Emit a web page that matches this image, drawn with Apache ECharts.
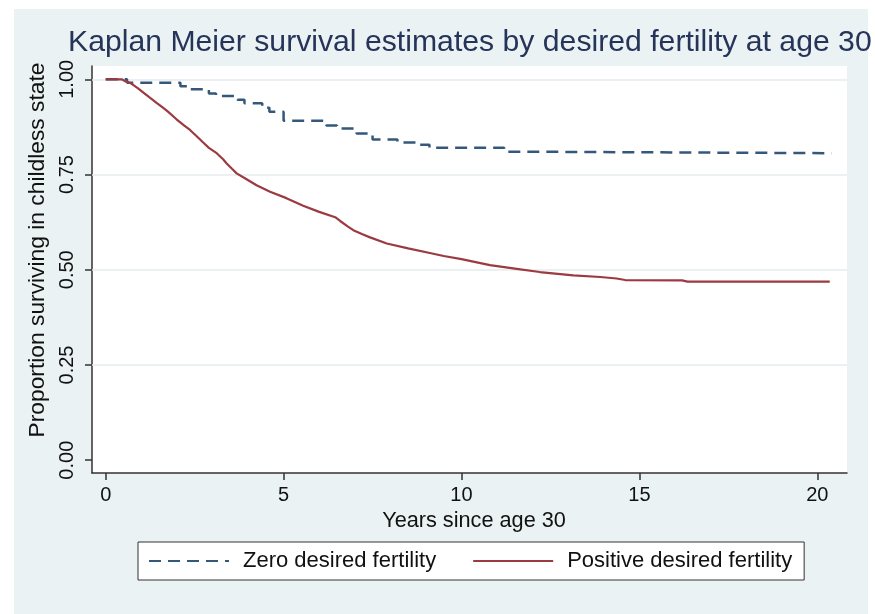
<!DOCTYPE html>
<html>
<head>
<meta charset="utf-8">
<script src="https://cdn.jsdelivr.net/npm/echarts@6/dist/echarts.min.js"></script>
<style>
  html, body { margin: 0; padding: 0; background: #ffffff; }
  #bg { position: absolute; left: 14px; top: 9px; width: 854px; height: 605px; background: #eaf2f3; }
  #chart { position: absolute; left: 0; top: 0; width: 875px; height: 614px; }
</style>
</head>
<body>
<div id="bg"></div>
<div id="chart"></div>
<script>
// ---- Data ----
const titleText = 'Kaplan Meier survival estimates by desired fertility at age 30';
const xAxisTitle = 'Years since age 30';
const yAxisTitle = 'Proportion surviving in childless state';
const seriesNames = ['Zero desired fertility', 'Positive desired fertility'];

const xTicks = [0, 5, 10, 15, 20];
const yTicks = [0, 0.25, 0.5, 0.75, 1.0];
const yGridValues = [0.25, 0.5, 0.75, 1.0];

// Zero desired fertility (step curve): time, survival
const zeroTime = [0, 0.6, 2.1, 2.3, 2.9, 3.1, 3.7, 3.9, 4.4, 4.6, 5.0, 6.2, 6.5, 7.05, 7.5, 8.2, 8.75, 9.1, 11.2, 11.7, 20.4];
const zeroSurv = [1.0, 0.991, 0.982, 0.974, 0.963, 0.956, 0.946, 0.937, 0.925, 0.915, 0.891, 0.879, 0.871, 0.858, 0.842, 0.834, 0.828, 0.820, 0.810, 0.806, 0.806];

// Positive desired fertility (many small steps, drawn as a traced line): time, survival
const posTime = [0, 0.45, 0.55, 0.7, 0.9, 1.06, 1.25, 1.43, 1.6, 1.75, 1.99, 2.2, 2.37, 2.55, 2.74, 2.9, 3.12, 3.3, 3.4, 3.55, 3.68, 3.9, 4.24, 4.62, 5.08, 5.55, 6.0, 6.45, 6.59, 6.8, 6.96, 7.2, 7.43, 7.9, 8.5, 9.11, 9.5, 10.0, 10.4, 10.8, 11.5, 12.2, 13.14, 13.9, 14.36, 14.6, 16.2, 16.35, 20.35];
const posSurv = [1.0, 1.0, 0.995, 0.99, 0.977, 0.965, 0.951, 0.938, 0.926, 0.915, 0.895, 0.879, 0.867, 0.851, 0.834, 0.82, 0.806, 0.79, 0.779, 0.765, 0.753, 0.741, 0.722, 0.705, 0.688, 0.668, 0.652, 0.638, 0.628, 0.614, 0.604, 0.594, 0.585, 0.569, 0.556, 0.544, 0.536, 0.528, 0.52, 0.512, 0.503, 0.494, 0.485, 0.481, 0.477, 0.473, 0.472, 0.469, 0.469];

const zeroData = zeroTime.map((t, i) => [t, zeroSurv[i]]);
const posData = posTime.map((t, i) => [t, posSurv[i]]);

const FONT = "'Liberation Sans', Arial, sans-serif";
const chart = echarts.init(document.getElementById('chart'), null, { renderer: 'canvas' });

chart.setOption({
  animation: false,
  backgroundColor: 'transparent',
  title: {
    text: titleText,
    left: 68,
    top: 28,
    padding: 0,
    textStyle: { fontFamily: FONT, fontSize: 30.2, fontWeight: 'normal', color: '#26345a' }
  },
  grid: {
    left: 92, top: 66, width: 755, height: 407,
    show: true, backgroundColor: '#ffffff', borderWidth: 0
  },
  legend: {
    data: seriesNames,
    left: 138,
    top: 542,
    orient: 'horizontal',
    padding: [8, 12, 8, 10],
    itemWidth: 80,
    itemHeight: 14,
    itemGap: 36,
    backgroundColor: '#ffffff',
    borderColor: '#333333',
    borderWidth: 1,
    borderRadius: 0,
    selectedMode: false,
    itemStyle: { opacity: 0 },
    textStyle: { fontFamily: FONT, fontSize: 22, color: '#111111', lineHeight: 22, padding: [0, 0, 0, 9] }
  },
  xAxis: {
    type: 'value',
    min: -0.385,
    max: 20.835,
    name: xAxisTitle,
    nameLocation: 'middle',
    nameGap: 34,
    nameTextStyle: { fontFamily: FONT, fontSize: 21.7, color: '#111111', padding: [0, 0, 0, 9] },
    axisLine: { show: true, onZero: false, lineStyle: { color: '#333333', width: 1.5 } },
    axisTick: { show: true, customValues: xTicks, length: 7, lineStyle: { color: '#333333', width: 1.5 } },
    axisLabel: { customValues: xTicks, fontFamily: FONT, fontSize: 20, color: '#111111', margin: 12 },
    splitLine: { show: false }
  },
  yAxis: {
    type: 'value',
    min: -0.0336,
    max: 1.0349,
    name: yAxisTitle,
    nameLocation: 'middle',
    nameGap: 35,
    nameRotate: 90,
    nameTextStyle: { fontFamily: FONT, fontSize: 22.8, color: '#111111', padding: [0, 0, 0, 39] },
    axisLine: { show: true, onZero: false, lineStyle: { color: '#333333', width: 1.5 } },
    axisTick: { show: true, customValues: yTicks, length: 7, lineStyle: { color: '#333333', width: 1.5 } },
    axisLabel: {
      customValues: yTicks, rotate: 90, fontFamily: FONT, fontSize: 20, color: '#111111', margin: 15,
      formatter: v => v.toFixed(2)
    },
    splitLine: { show: false }
  },
  series: [
    {
      name: seriesNames[0],
      type: 'line',
      step: 'end',
      data: zeroData,
      symbol: 'none',
      showSymbol: false,
      z: 3,
      lineStyle: { color: '#34587a', width: 2.5, type: [12, 7] },
      itemStyle: { color: '#34587a' },
      markLine: {
        silent: true,
        z: 1,
        symbol: 'none',
        label: { show: false },
        lineStyle: { color: '#e4ecee', width: 1.5, type: 'solid' },
        data: yGridValues.map(v => ({ yAxis: v }))
      }
    },
    {
      name: seriesNames[1],
      type: 'line',
      data: posData,
      symbol: 'none',
      showSymbol: false,
      z: 3,
      lineStyle: { color: '#9b3a40', width: 2.2, type: 'solid' },
      itemStyle: { color: '#9b3a40' }
    }
  ]
});
</script>
</body>
</html>
